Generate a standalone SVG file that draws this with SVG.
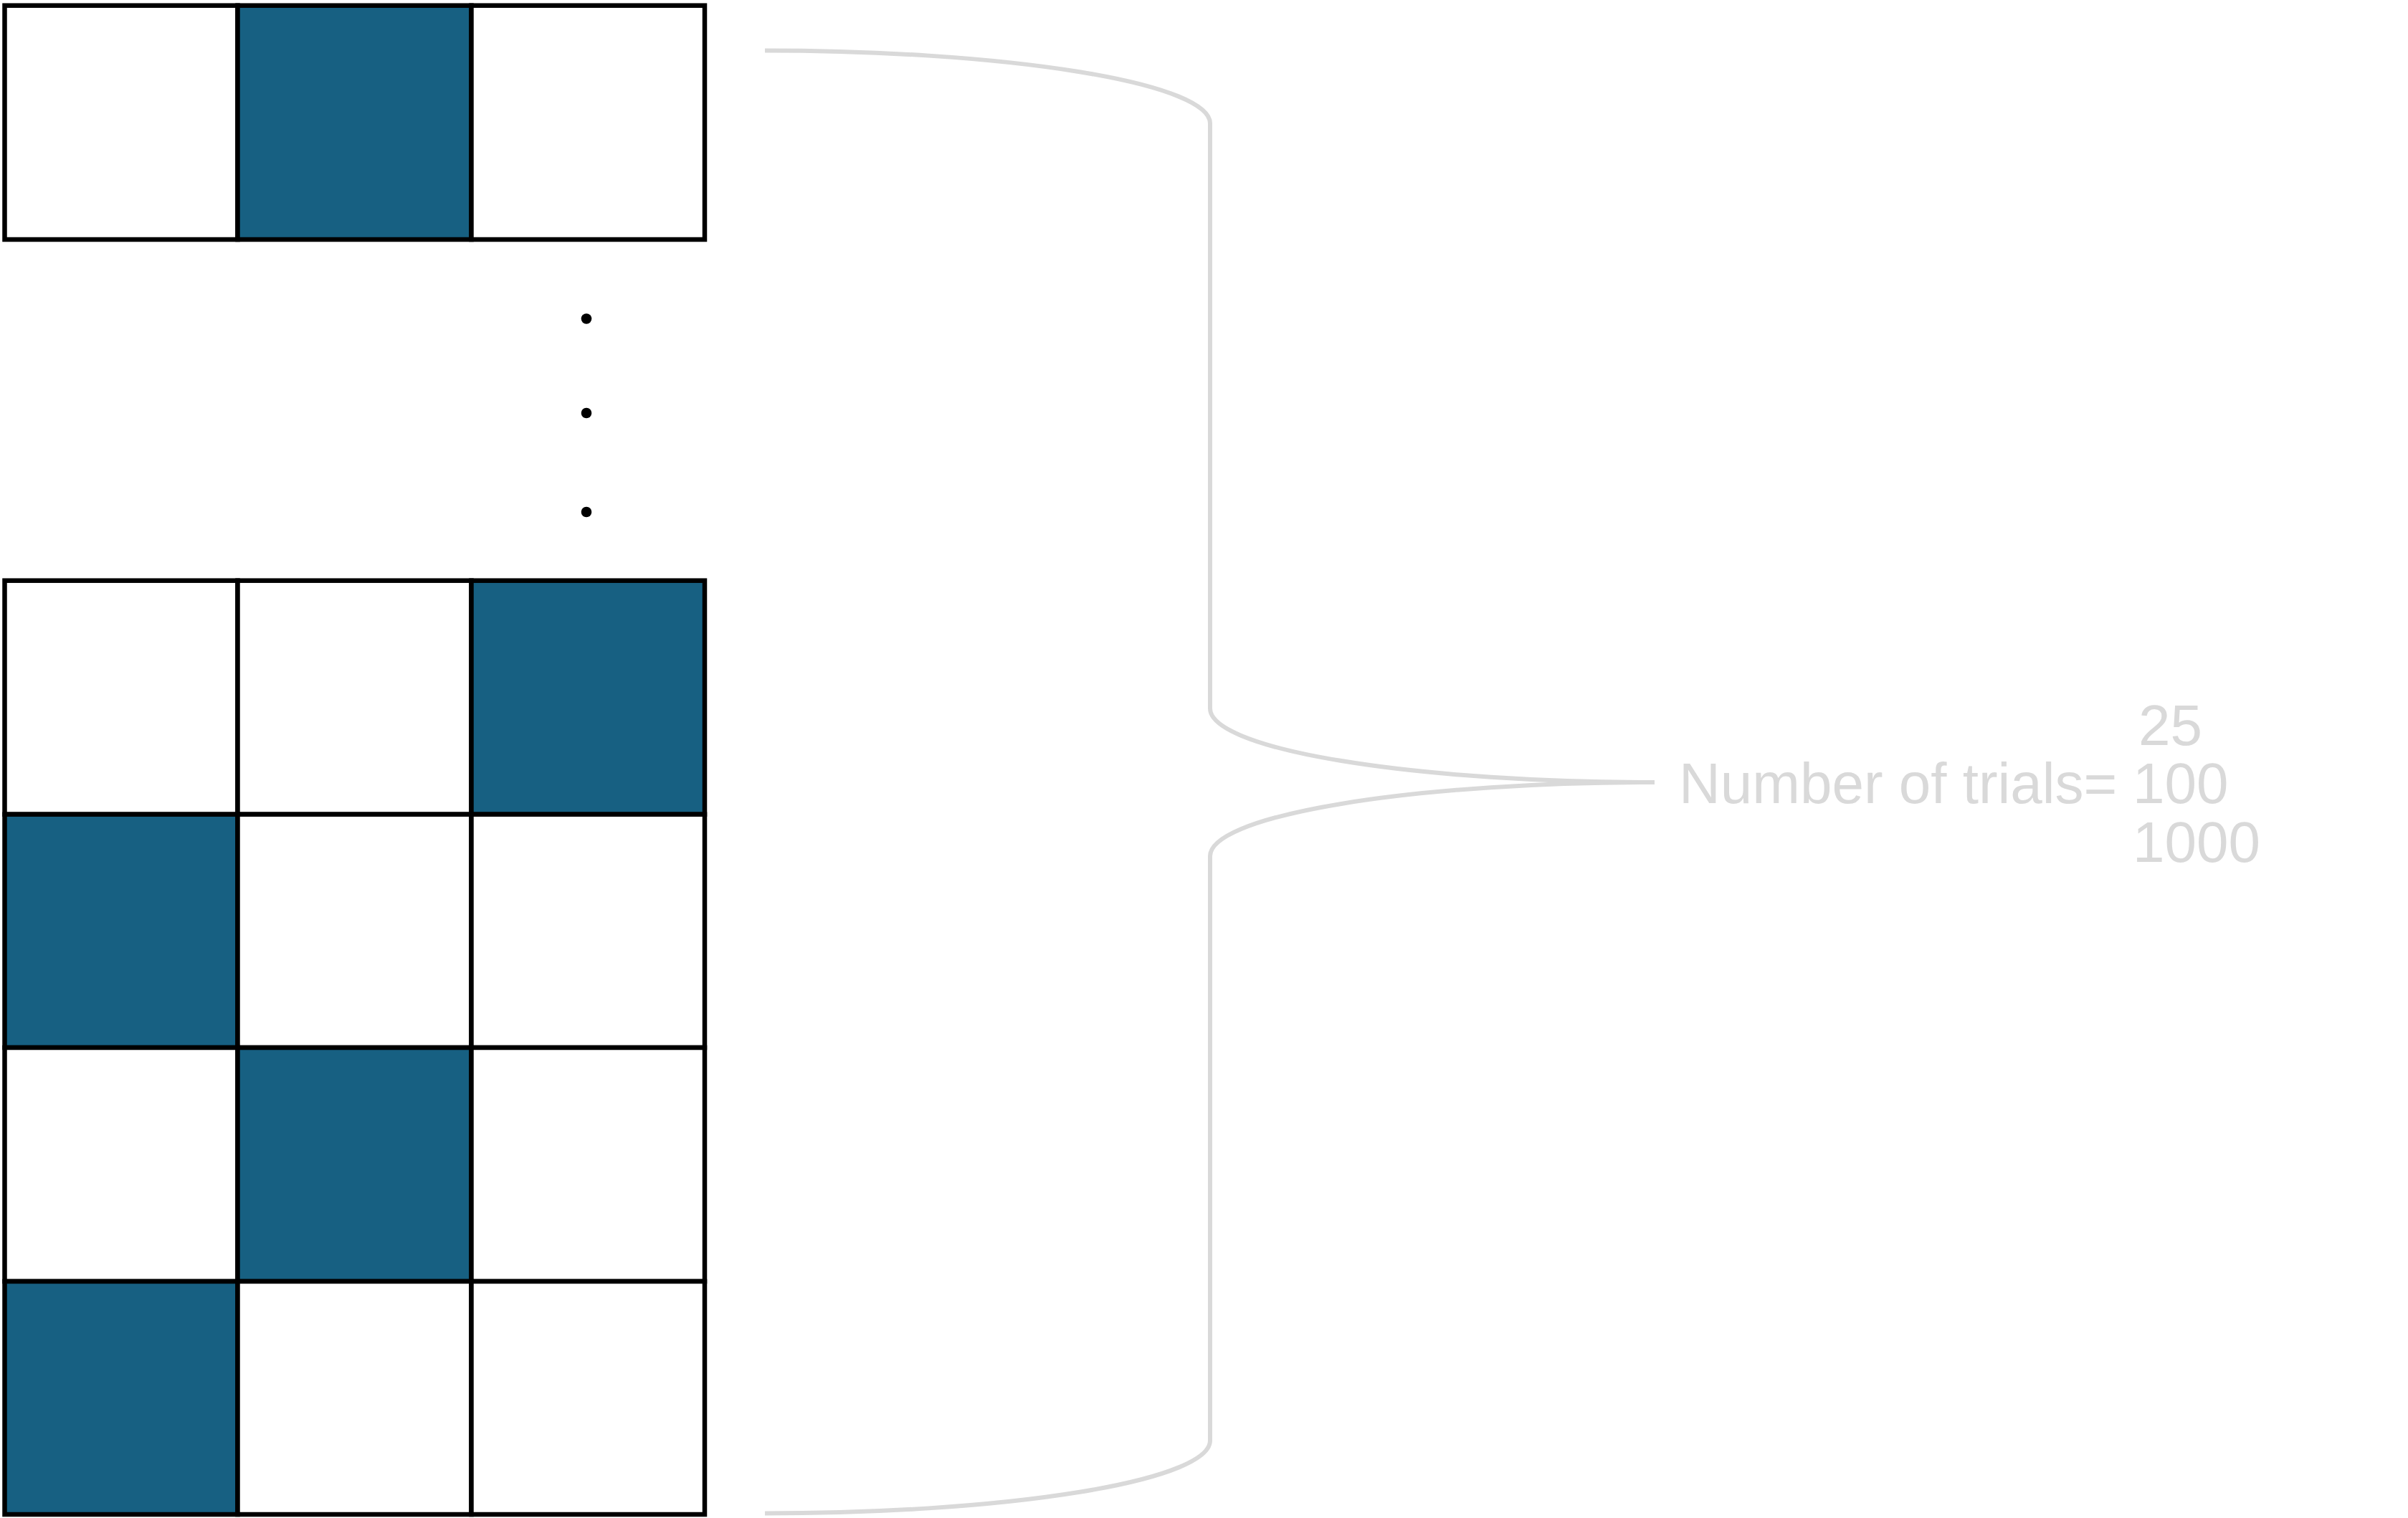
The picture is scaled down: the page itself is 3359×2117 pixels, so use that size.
<svg xmlns="http://www.w3.org/2000/svg" width="3359" height="2117" viewBox="0 0 3359 2117">
<style>
.c{stroke:#000;stroke-width:6.5;fill:#fff}
.b{fill:#176082}
.br{fill:none;stroke:#d9d9d9;stroke-width:6}
.t{font-family:"Liberation Sans",Arial,sans-serif;font-size:80px;fill:#d9d9d9}
.d{fill:#000}
</style>
<rect width="3359" height="2117" fill="#fff"/>
<g id="trial-top">
<rect class="c" x="6.5" y="7.7" width="325" height="326.3"/>
<rect class="c b" x="331.5" y="7.7" width="326" height="326.3"/>
<rect class="c" x="657.5" y="7.7" width="325.5" height="326.3"/>
</g>
<g id="ellipsis">
<circle class="d" cx="818" cy="444.5" r="7.3"/>
<circle class="d" cx="818" cy="576" r="7.3"/>
<circle class="d" cx="818" cy="714" r="7.3"/>
</g>
<g id="trials-bottom">
<rect class="c" x="6.5" y="809.7" width="325" height="326"/>
<rect class="c" x="331.5" y="809.7" width="326" height="326"/>
<rect class="c b" x="657.5" y="809.7" width="325.5" height="326"/>
<rect class="c b" x="6.5" y="1135.7" width="325" height="325.3"/>
<rect class="c" x="331.5" y="1135.7" width="326" height="325.3"/>
<rect class="c" x="657.5" y="1135.7" width="325.5" height="325.3"/>
<rect class="c" x="6.5" y="1461" width="325" height="326"/>
<rect class="c b" x="331.5" y="1461" width="326" height="326"/>
<rect class="c" x="657.5" y="1461" width="325.5" height="326"/>
<rect class="c b" x="6.5" y="1787" width="325" height="325"/>
<rect class="c" x="331.5" y="1787" width="326" height="325"/>
<rect class="c" x="657.5" y="1787" width="325.5" height="325"/>
</g>
<g id="connectors">
<path class="br" d="M1067 70.5 A621 101.5 0 0 1 1688 172 L1688 988 A620 103 0 0 0 2308 1091 A620 103 0 0 0 1688 1194 L1688 2009 A621 101.5 0 0 1 1067 2110.5"/>
</g>
<g id="label">
<text class="t" x="2342" y="1120">Number of trials=</text>
<text class="t" x="2983" y="1039">25</text>
<text class="t" x="2975" y="1120">100</text>
<text class="t" x="2975" y="1202">1000</text>
</g>
</svg>
